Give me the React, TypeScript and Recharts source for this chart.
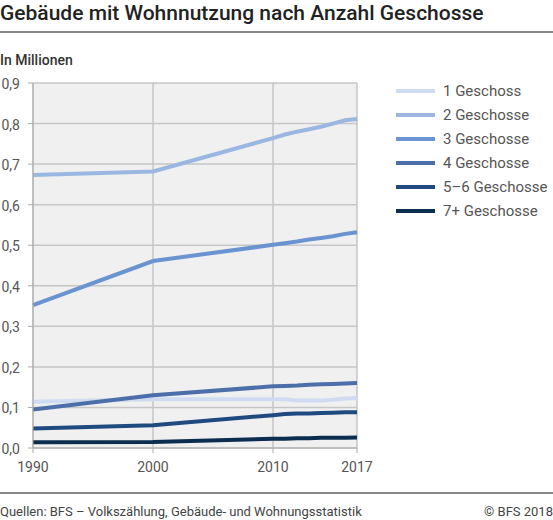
import { CartesianGrid, Line, LineChart, XAxis, YAxis } from 'recharts'

const years = [1990, 2000, 2010, 2011, 2012, 2013, 2014, 2015, 2016, 2017]
const g1 = [0.114, 0.12, 0.12, 0.12, 0.117, 0.117, 0.117, 0.119, 0.122, 0.123]
const g2 = [0.673, 0.682, 0.764, 0.773, 0.78, 0.786, 0.792, 0.8, 0.808, 0.811]
const g3 = [0.352, 0.461, 0.501, 0.505, 0.509, 0.514, 0.518, 0.522, 0.528, 0.532]
const g4 = [0.095, 0.13, 0.152, 0.153, 0.154, 0.156, 0.157, 0.158, 0.159, 0.16]
const g56 = [0.048, 0.056, 0.081, 0.084, 0.085, 0.085, 0.086, 0.087, 0.088, 0.088]
const g7 = [0.014, 0.015, 0.023, 0.023, 0.024, 0.024, 0.025, 0.025, 0.025, 0.026]

const xTicks = [1990, 2000, 2010, 2017]
const yTicks = [0, 0.1, 0.2, 0.3, 0.4, 0.5, 0.6, 0.7, 0.8, 0.9]

const series = [
  { key: 'g1', name: '1 Geschoss', values: g1, color: '#cfdbf1' },
  { key: 'g2', name: '2 Geschosse', values: g2, color: '#9ab7e2' },
  { key: 'g3', name: '3 Geschosse', values: g3, color: '#6a93d1' },
  { key: 'g4', name: '4 Geschosse', values: g4, color: '#4d6fa9' },
  { key: 'g56', name: '5–6 Geschosse', values: g56, color: '#1e4a80' },
  { key: 'g7', name: '7+ Geschosse', values: g7, color: '#0b2d4f' },
]

const data = years.map((year, i) => {
  const row: Record<string, number> = { year }
  series.forEach((s) => {
    row[s.key] = s.values[i]
  })
  return row
})

const font = 'Roboto, sans-serif'

function YTick(props: any) {
  const { x, y, payload } = props
  return (
    <text
      x={x}
      y={y + 6}
      textAnchor="end"
      fill="#555"
      fontSize={14}
      fontFamily={font}
    >
      {Number(payload.value).toFixed(1).replace('.', ',')}
    </text>
  )
}

export default function App() {
  return (
    <div
      style={{
        position: 'absolute',
        left: 0,
        top: 0,
        width: 553,
        height: 520,
        background: '#fff',
        fontFamily: font,
      }}
    >
      <div
        style={{
          position: 'absolute',
          left: 0,
          top: 1,
          fontSize: 21,
          fontWeight: 500,
          color: '#222',
          whiteSpace: 'nowrap',
        }}
      >
        Gebäude mit Wohnnutzung nach Anzahl Geschosse
      </div>
      <div
        style={{
          position: 'absolute',
          left: 0,
          top: 31,
          width: 553,
          height: 2,
          background: '#888',
        }}
      />
      <div
        style={{
          position: 'absolute',
          left: 0,
          top: 52,
          fontSize: 14,
          fontWeight: 500,
          color: '#333',
        }}
      >
        In Millionen
      </div>
      <div style={{ position: 'absolute', left: 0, top: 0 }}>
        <LineChart
          width={553}
          height={520}
          data={data}
          margin={{ top: 83, right: 196, bottom: 42, left: 0 }}
        >
          <CartesianGrid stroke="#c6c6c6" fill="#f0f0f0" strokeWidth={1.5} />
          <XAxis
            dataKey="year"
            type="number"
            domain={[1990, 2017]}
            ticks={xTicks}
            height={30}
            tickSize={5}
            tickMargin={9}
            stroke="#aaa"
            tick={{ fill: '#555', fontSize: 14, fontFamily: font }}
          />
          <YAxis
            domain={[0, 0.9]}
            ticks={yTicks}
            width={33}
            tickSize={5}
            tickMargin={8}
            stroke="#aaa"
            tick={<YTick />}
          />
          {series.map((s) => (
            <Line
              key={s.key}
              dataKey={s.key}
              name={s.name}
              stroke={s.color}
              strokeWidth={4}
              dot={false}
              isAnimationActive={false}
            />
          ))}
        </LineChart>
      </div>
      <div style={{ position: 'absolute', left: 396, top: 79 }}>
        {series.map((s) => (
          <div
            key={s.key}
            style={{ display: 'flex', alignItems: 'center', height: 24 }}
          >
            <div style={{ width: 39, height: 4, background: s.color }} />
            <span
              style={{
                marginLeft: 8,
                fontSize: 15,
                color: '#555',
                whiteSpace: 'nowrap',
              }}
            >
              {s.name}
            </span>
          </div>
        ))}
      </div>
      <div
        style={{
          position: 'absolute',
          left: 0,
          top: 492,
          width: 553,
          height: 2,
          background: '#888',
        }}
      />
      <div
        style={{
          position: 'absolute',
          left: 0,
          top: 504,
          fontSize: 13,
          color: '#444',
          whiteSpace: 'nowrap',
        }}
      >
        Quellen: BFS – Volkszählung, Gebäude- und Wohnungsstatistik
      </div>
      <div
        style={{
          position: 'absolute',
          right: 0,
          top: 504,
          fontSize: 13,
          color: '#444',
          whiteSpace: 'nowrap',
        }}
      >
        © BFS 2018
      </div>
    </div>
  )
}
